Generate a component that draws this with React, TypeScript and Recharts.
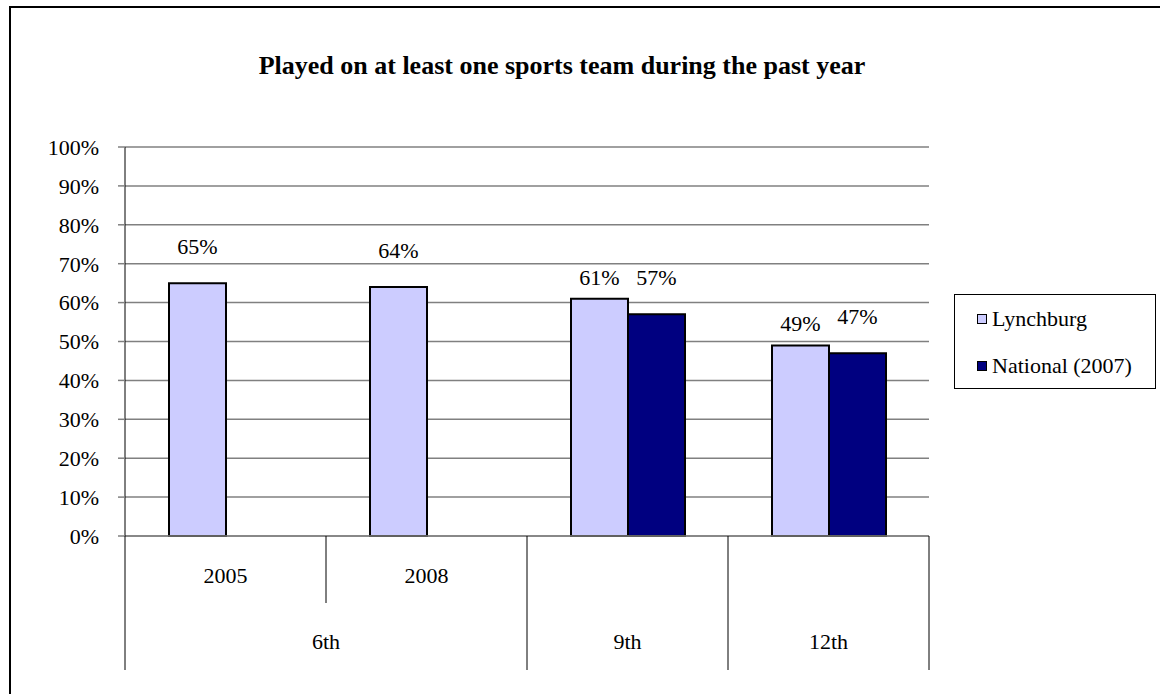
import { BarChart, Bar, XAxis, YAxis, CartesianGrid, Legend, LabelList } from "recharts";

const yearLabels = ["2005", "2008", "", ""];
const gradeLabels = ["6th", "6th", "9th", "12th"];
const lynchburg = [65, 64, 61, 49];
const national: (number | null)[] = [null, null, 57, 47];
const yTicks = [0, 10, 20, 30, 40, 50, 60, 70, 80, 90, 100];

const data = gradeLabels.map((grade, i) => ({
  key: `${grade}-${i}`,
  lynchburg: lynchburg[i],
  national: national[i],
}));

const serif = '"Liberation Serif", "Times New Roman", serif';
const AXIS_H = 134;

function GradeTick(props: any) {
  const { x, y, payload, width } = props;
  const i: number = props.index ?? payload.index;
  const half: number = payload?.offset || width / data.length / 2;
  const left = x - half;
  const startsGroup = i === 0 || gradeLabels[i] !== gradeLabels[i - 1];
  let span = 1;
  while (i + span < gradeLabels.length && gradeLabels[i + span] === gradeLabels[i]) span++;
  return (
    <g>
      <line x1={left} x2={left} y1={y} y2={y + (startsGroup ? AXIS_H : AXIS_H / 2)} stroke="#000" />
      {i === data.length - 1 && <line x1={x + half} x2={x + half} y1={y} y2={y + AXIS_H} stroke="#000" />}
      {yearLabels[i] && (
        <text x={x} y={y + 47} textAnchor="middle" fontSize={22} fontFamily={serif} fill="#000">
          {yearLabels[i]}
        </text>
      )}
      {startsGroup && (
        <text x={left + span * half} y={y + 113} textAnchor="middle" fontSize={22} fontFamily={serif} fill="#000">
          {gradeLabels[i]}
        </text>
      )}
    </g>
  );
}

function ValueLabel(props: any) {
  const { x, y, width, value, index } = props;
  if (value == null) return null;
  const lift = gradeLabels[index] === "6th" ? 29 : 14;
  return (
    <text x={x + width / 2} y={y - lift} textAnchor="middle" fontSize={22} fontFamily={serif} fill="#000">
      {value}%
    </text>
  );
}

function SeriesLegend({ payload }: any) {
  return (
    <div
      style={{
        width: 202,
        height: 95,
        boxSizing: "border-box",
        border: "1px solid #000",
        background: "#fff",
        fontFamily: serif,
        fontSize: 22,
      }}
    >
      {(payload || []).map((entry: any) => (
        <div key={entry.value} style={{ display: "flex", alignItems: "center", height: 47 }}>
          <span
            style={{
              display: "inline-block",
              width: 8,
              height: 8,
              background: entry.color,
              border: "1.5px solid #000",
              marginLeft: 22,
              marginRight: 5,
            }}
          />
          <span>{entry.value}</span>
        </div>
      ))}
    </div>
  );
}

export default function App() {
  return (
    <div style={{ position: "fixed", left: 0, top: 0, width: 1160, height: 694, background: "#fff", overflow: "hidden" }}>
      <div
        style={{
          position: "absolute",
          left: 9,
          top: 6,
          width: 1200,
          height: 720,
          border: "2px solid #000",
        }}
      />
      <div
        style={{
          position: "absolute",
          left: 162,
          top: 53,
          width: 800,
          textAlign: "center",
          fontFamily: serif,
          fontWeight: "bold",
          fontSize: 26,
          lineHeight: "26px",
        }}
      >
        Played on at least one sports team during the past year
      </div>
      <div style={{ position: "absolute", left: 0, top: 0 }}>
        <BarChart
          width={1160}
          height={694}
          data={data}
          margin={{ top: 147, right: 231, bottom: 24, left: 0 }}
          barSize={57}
          barGap={0}
        >
          <CartesianGrid vertical={false} stroke="#808080" strokeWidth={1.5} />
          <XAxis
            dataKey="key"
            height={AXIS_H}
            interval={0}
            tickSize={0}
            tickMargin={0}
            tickLine={false}
            axisLine={{ stroke: "#808080", strokeWidth: 1.5 }}
            tick={<GradeTick />}
          />
          <YAxis
            width={125}
            domain={[0, 100]}
            ticks={yTicks}
            interval={0}
            tickFormatter={(v: number) => `${v}%`}
            tickSize={7}
            tickMargin={19}
            axisLine={{ stroke: "#000" }}
            tickLine={{ stroke: "#808080", strokeWidth: 1.5 }}
            tick={{ fill: "#000", fontSize: 22, fontFamily: serif }}
          />
          <Legend
            layout="horizontal"
            align="center"
            verticalAlign="middle"
            content={<SeriesLegend />}
            wrapperStyle={{ left: 954, top: 294, width: 202, height: 95 }}
          />
          <Bar dataKey="lynchburg" name="Lynchburg" fill="#CCCCFF" stroke="#000" strokeWidth={2} isAnimationActive={false}>
            <LabelList dataKey="lynchburg" content={<ValueLabel />} />
          </Bar>
          <Bar dataKey="national" name="National (2007)" fill="#000080" stroke="#000" strokeWidth={2} isAnimationActive={false}>
            <LabelList dataKey="national" content={<ValueLabel />} />
          </Bar>
        </BarChart>
      </div>
    </div>
  );
}
